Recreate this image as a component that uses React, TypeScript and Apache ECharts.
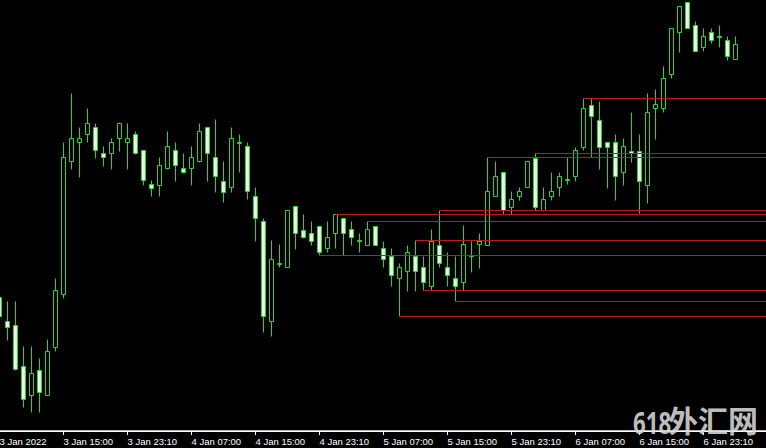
import React, { useEffect, useRef } from "react";
import * as echarts from "echarts";

const tickLabels = [
  "3 Jan 2022", "3 Jan 15:00", "3 Jan 23:10", "4 Jan 07:00", "4 Jan 15:00", "4 Jan 23:10",
  "5 Jan 07:00", "5 Jan 15:00", "5 Jan 23:10", "6 Jan 07:00", "6 Jan 15:00", "6 Jan 23:10",
];

const opens = [
  1.13133, 1.13109, 1.13105, 1.13064, 1.13035, 1.1306, 1.13035, 1.13083, 1.13136, 1.13269,
  1.13288, 1.13296, 1.13303, 1.13277, 1.13277, 1.13292, 1.13288, 1.13296, 1.1328, 1.13246,
  1.13245, 1.13262, 1.1328, 1.13262, 1.13262, 1.13269, 1.13303, 1.13273, 1.13249, 1.13243,
  1.13287, 1.13284, 1.13234, 1.13209, 1.13109, 1.13166, 1.13163, 1.13224, 1.132, 1.13197,
  1.13204, 1.13182, 1.13197, 1.13212, 1.13201, 1.1319, 1.13185, 1.13204, 1.13182, 1.13174,
  1.13152, 1.13159, 1.13174, 1.13163, 1.13144, 1.13185, 1.13163, 1.13152, 1.13148, 1.13174,
  1.13186, 1.13185, 1.13234, 1.13258, 1.13223, 1.13234, 1.13243, 1.13272, 1.1322, 1.13234,
  1.13243, 1.1325, 1.13254, 1.13283, 1.13325, 1.1331, 1.13288, 1.13288, 1.13258, 1.13279,
  1.13279, 1.13245, 1.13322, 1.13322, 1.13356, 1.13398, 1.13428, 1.13405, 1.13383, 1.13398,
  1.13394, 1.1339, 1.13371,
];
const closes = [
  1.13114, 1.13103, 1.13061, 1.13031, 1.13057, 1.13038, 1.13079, 1.1314, 1.13273, 1.13292,
  1.13292, 1.13307, 1.1328, 1.13273, 1.13288, 1.13307, 1.13292, 1.13277, 1.1325, 1.13242,
  1.13265, 1.13284, 1.13265, 1.13258, 1.13273, 1.13299, 1.13277, 1.13254, 1.13238, 1.13292,
  1.13288, 1.13239, 1.13212, 1.13114, 1.13171, 1.13167, 1.1322, 1.13197, 1.13193, 1.13189,
  1.13178, 1.13193, 1.13216, 1.13197, 1.13193, 1.13189, 1.13201, 1.13185, 1.13171, 1.13155,
  1.13163, 1.13178, 1.13159, 1.13148, 1.13189, 1.13167, 1.13155, 1.13144, 1.13186, 1.13175,
  1.13189, 1.13239, 1.13254, 1.1322, 1.13231, 1.13239, 1.13269, 1.13223, 1.13231, 1.13239,
  1.13254, 1.13251, 1.1328, 1.13322, 1.13314, 1.13283, 1.13283, 1.13254, 1.13284, 1.13277,
  1.13249, 1.13318, 1.13326, 1.13352, 1.13402, 1.13424, 1.13402, 1.13379, 1.13394, 1.1339,
  1.13393, 1.13374, 1.13386,
];
const highs = [
  1.13135, 1.13129, 1.13129, 1.13084, 1.13084, 1.13072, 1.13091, 1.13152, 1.13288, 1.13337,
  1.13303, 1.13322, 1.13307, 1.13284, 1.13292, 1.13308, 1.13307, 1.13299, 1.1328, 1.1325,
  1.13273, 1.13299, 1.13288, 1.13277, 1.13284, 1.13307, 1.13303, 1.13311, 1.13269, 1.13303,
  1.13296, 1.13288, 1.13243, 1.13212, 1.1319, 1.13186, 1.1322, 1.13224, 1.13216, 1.13209,
  1.13204, 1.13209, 1.13216, 1.13212, 1.13209, 1.13197, 1.13209, 1.13204, 1.13189, 1.13182,
  1.13167, 1.13185, 1.1319, 1.13174, 1.13201, 1.1322, 1.13178, 1.13174, 1.13205, 1.13189,
  1.13197, 1.13273, 1.13269, 1.13258, 1.13239, 1.13243, 1.13269, 1.13277, 1.13243, 1.13258,
  1.13258, 1.13273, 1.13283, 1.13332, 1.13332, 1.13329, 1.13288, 1.13296, 1.13292, 1.13318,
  1.13296, 1.13337, 1.13341, 1.13364, 1.13402, 1.13424, 1.13428, 1.13409, 1.13402, 1.13402,
  1.13405, 1.13394, 1.13394,
];
const lows = [
  1.13106, 1.1309, 1.1306, 1.13023, 1.13018, 1.13018, 1.13035, 1.13079, 1.13132, 1.13261,
  1.13253, 1.13288, 1.13272, 1.13264, 1.13261, 1.13279, 1.13261, 1.13276, 1.13245, 1.13234,
  1.13234, 1.13261, 1.13249, 1.13257, 1.13245, 1.13268, 1.13249, 1.13238, 1.13228, 1.13238,
  1.13258, 1.13231, 1.13189, 1.13098, 1.13094, 1.13163, 1.13163, 1.13181, 1.13192, 1.13185,
  1.13175, 1.13178, 1.13182, 1.13175, 1.13185, 1.13178, 1.13185, 1.13185, 1.13163, 1.13144,
  1.13114, 1.13139, 1.13139, 1.1314, 1.1314, 1.13163, 1.13144, 1.13129, 1.1314, 1.13158,
  1.13162, 1.13185, 1.13234, 1.13216, 1.13216, 1.1323, 1.13243, 1.1322, 1.13219, 1.1323,
  1.13234, 1.13246, 1.13249, 1.1328, 1.13273, 1.13261, 1.13242, 1.1323, 1.13245, 1.13268,
  1.13217, 1.13227, 1.13291, 1.13318, 1.13352, 1.13378, 1.13402, 1.13379, 1.13379, 1.13387,
  1.13383, 1.1337, 1.13371,
];

// horizontal levels drawn from a bar to the right edge
const levelPrices = [1.13332, 1.13277, 1.13273, 1.1322, 1.13216, 1.13209, 1.1319, 1.13175, 1.1314, 1.13129, 1.13114];
const levelStartBars = [73, 67, 61, 55, 42, 46, 52, 40, 53, 57, 50];

const EXTRA_SLOTS = 4;
const LABEL_EVERY = 8;

export default function App() {
  const ref = useRef<HTMLDivElement>(null);

  useEffect(() => {
    if (!ref.current) return;
    const chart = echarts.init(ref.current, undefined, { renderer: "svg" });
    const total = opens.length + EXTRA_SLOTS;
    const categories = Array.from({ length: total }, (_, i) =>
      i % LABEL_EVERY === 0 && i / LABEL_EVERY < tickLabels.length ? tickLabels[i / LABEL_EVERY] : "bar" + i
    );
    const showAt = (i: number) => i % LABEL_EVERY === 0 && i / LABEL_EVERY < tickLabels.length;
    const candles = opens.map((o, i) => [o, closes[i], lows[i], highs[i]]);
    const green = "#28d828";
    const red = "#b81c1c";

    const levelLines: any[] = levelPrices.map((p, k) => [
      { coord: [categories[levelStartBars[k]], p], lineStyle: { color: red, width: 1, type: "solid" } },
      { coord: [categories[total - 1], p], lineStyle: { color: red, width: 1, type: "solid" } },
    ]);
    levelLines.push({
      yAxis: closes[closes.length - 1],
      lineStyle: { color: "#b4b4b4", width: 1, type: "solid" },
    });

    chart.setOption({
      animation: false,
      backgroundColor: "#000000",
      grid: {
        left: -4.5,
        top: 0,
        width: 8 * total,
        height: 431,
        containLabel: false,
        outerBoundsMode: "none",
      },
      xAxis: {
        type: "category",
        data: categories,
        boundaryGap: true,
        axisLine: { show: true, lineStyle: { color: "#ffffff", width: 1 } },
        axisTick: { show: true, alignWithLabel: true, length: 4, interval: (i: number) => showAt(i), lineStyle: { color: "#ffffff" } },
        axisLabel: {
          show: true,
          interval: (i: number) => showAt(i),
          color: "#ffffff",
          fontSize: 9.5,
          fontFamily: "Liberation Sans, DejaVu Sans, sans-serif",
          align: "left",
          margin: 5,
          hideOverlap: false,
        },
        splitLine: { show: false },
      },
      yAxis: {
        type: "value",
        min: 1.129995,
        max: 1.134305,
        show: false,
        splitLine: { show: false },
      },
      series: [
        {
          type: "candlestick",
          data: candles,
          barWidth: 4,
          itemStyle: {
            color: "#000000",
            borderColor: green,
            color0: "#e4ffe4",
            borderColor0: green,
            borderWidth: 1,
          },
          markLine: {
            silent: true,
            symbol: ["none", "none"],
            label: { show: false },
            emphasis: { disabled: true },
            lineStyle: { color: red, width: 1, type: "solid", opacity: 1 },
            data: levelLines,
          },
        },
      ],
      graphic: [
        {
          type: "text",
          left: 633,
          top: 406,
          z: 100,
          style: {
            text: "618",
            fill: "rgba(215,215,215,0.9)",
            font: "bold 31px 'Noto Sans', sans-serif",
          },
          scaleX: 0.72,
        },
        {
          type: "text",
          left: 668,
          top: 404,
          z: 100,
          style: {
            text: "外汇网",
            fill: "rgba(215,215,215,0.9)",
            font: "bold 30px 'Noto Sans CJK SC', sans-serif",
          },
        },
      ],
    });
    return () => chart.dispose();
  }, []);

  return (
    <div
      ref={ref}
      style={{ position: "fixed", left: 0, top: 0, width: 766, height: 448 }}
    />
  );
}
